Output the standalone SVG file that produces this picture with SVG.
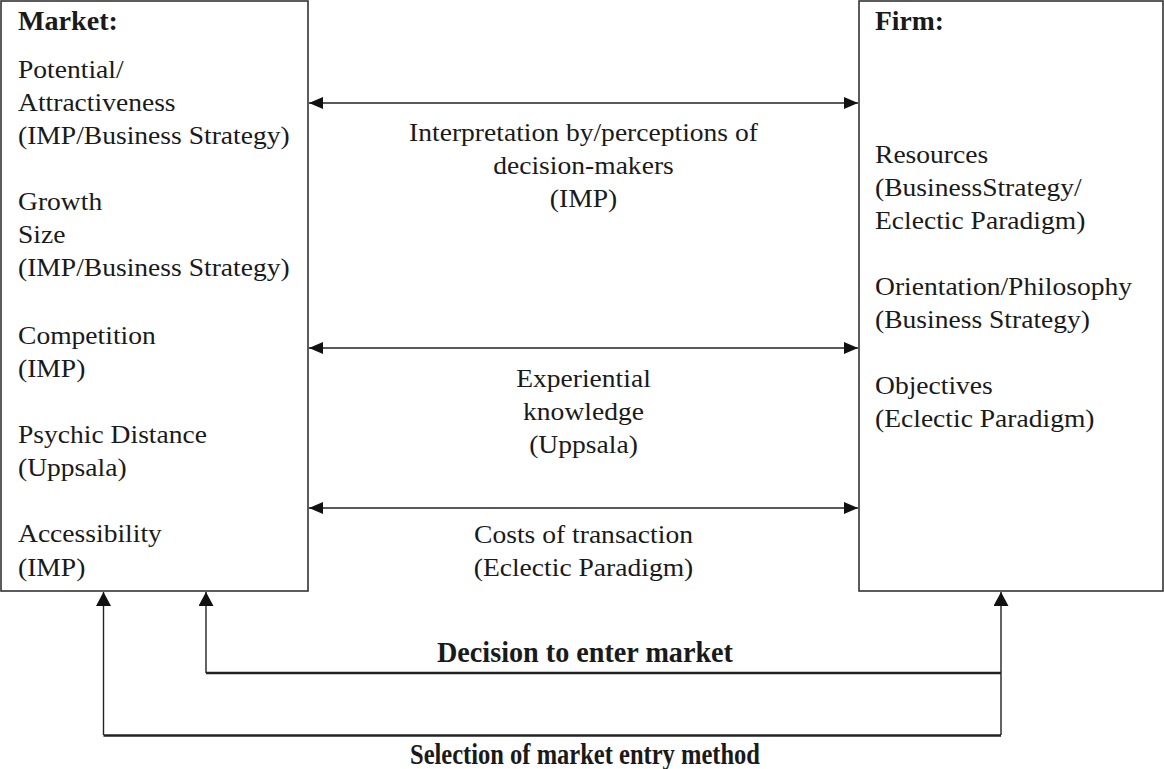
<svg xmlns="http://www.w3.org/2000/svg" width="1164" height="769" viewBox="0 0 1164 769">
<style>
.box{fill:#fff;stroke:#333;stroke-width:1.6}
.t{font-family:"Liberation Serif","Times New Roman",serif;font-size:26px;fill:#1a1a1a}
.b{font-family:"Liberation Serif","Times New Roman",serif;font-size:28px;font-weight:bold;fill:#1a1a1a}
.bb{font-family:"Liberation Serif","Times New Roman",serif;font-size:29px;font-weight:bold;fill:#1a1a1a}
.m{text-anchor:middle}
.ln{fill:none;stroke:#222;stroke-width:1.4}
.thick{fill:none;stroke:#222;stroke-width:2.6}
</style>
<defs>
<marker id="ah" viewBox="0 0 14 12" refX="14" refY="6" markerWidth="14" markerHeight="12" markerUnits="userSpaceOnUse" orient="auto-start-reverse">
<path d="M0,0 L14,6 L0,12 Z" fill="#111"/>
</marker>
<marker id="up" viewBox="0 0 14 15" refX="14" refY="7.5" markerWidth="14" markerHeight="15" markerUnits="userSpaceOnUse" orient="auto">
<path d="M0,0 L14,7.5 L0,15 Z" fill="#111"/>
</marker>
</defs>
<g id="market">
<rect class="box" x="1" y="1" width="307" height="590"/>
<text class="b" x="18" y="30" textLength="100" lengthAdjust="spacingAndGlyphs">Market:</text>
<g transform="translate(18,0) scale(1.06,1)">
<text class="t" x="0" y="78">Potential/</text>
<text class="t" x="0" y="111">Attractiveness</text>
<text class="t" x="0" y="144">(IMP/Business Strategy)</text>
<text class="t" x="0" y="210">Growth</text>
<text class="t" x="0" y="243">Size</text>
<text class="t" x="0" y="276">(IMP/Business Strategy)</text>
<text class="t" x="0" y="344">Competition</text>
<text class="t" x="0" y="377">(IMP)</text>
<text class="t" x="0" y="443">Psychic Distance</text>
<text class="t" x="0" y="476">(Uppsala)</text>
<text class="t" x="0" y="542">Accessibility</text>
<text class="t" x="0" y="576">(IMP)</text>
</g>
</g>
<g id="firm">
<rect class="box" x="859" y="1" width="304" height="590"/>
<text class="b" x="875" y="30" textLength="69" lengthAdjust="spacingAndGlyphs">Firm:</text>
<g transform="translate(875,0) scale(1.06,1)">
<text class="t" x="0" y="163">Resources</text>
<text class="t" x="0" y="196">(BusinessStrategy/</text>
<text class="t" x="0" y="229">Eclectic Paradigm)</text>
<text class="t" x="0" y="295">Orientation/Philosophy</text>
<text class="t" x="0" y="328">(Business Strategy)</text>
<text class="t" x="0" y="394">Objectives</text>
<text class="t" x="0" y="427">(Eclectic Paradigm)</text>
</g>
</g>
<g id="connectors">
<line class="ln" x1="309" y1="103" x2="858" y2="103" marker-start="url(#ah)" marker-end="url(#ah)"/>
<line class="ln" x1="309" y1="348" x2="858" y2="348" marker-start="url(#ah)" marker-end="url(#ah)"/>
<line class="ln" x1="309" y1="508" x2="858" y2="508" marker-start="url(#ah)" marker-end="url(#ah)"/>
<path class="ln" d="M103.5,735 V592" marker-end="url(#up)"/>
<path class="ln" d="M206,673 V592" marker-end="url(#up)"/>
<path class="ln" d="M1001,735 V592" marker-end="url(#up)"/>
<path class="thick" d="M206,673 H1001"/>
<path class="thick" d="M103.5,735.5 H1001"/>
</g>
<g id="labels">
<g transform="translate(583.5,0) scale(1.06,1)">
<text class="t m" x="0" y="141">Interpretation by/perceptions of</text>
<text class="t m" x="0" y="174">decision-makers</text>
<text class="t m" x="0" y="207">(IMP)</text>
<text class="t m" x="0" y="387">Experiential</text>
<text class="t m" x="0" y="420">knowledge</text>
<text class="t m" x="0" y="453">(Uppsala)</text>
<text class="t m" x="0" y="543">Costs of transaction</text>
<text class="t m" x="0" y="576">(Eclectic Paradigm)</text>
</g>
<text class="bb m" x="585" y="662" textLength="296" lengthAdjust="spacingAndGlyphs">Decision to enter market</text>
<text class="bb m" x="585" y="764" textLength="350" lengthAdjust="spacingAndGlyphs">Selection of market entry method</text>
</g>
</svg>
